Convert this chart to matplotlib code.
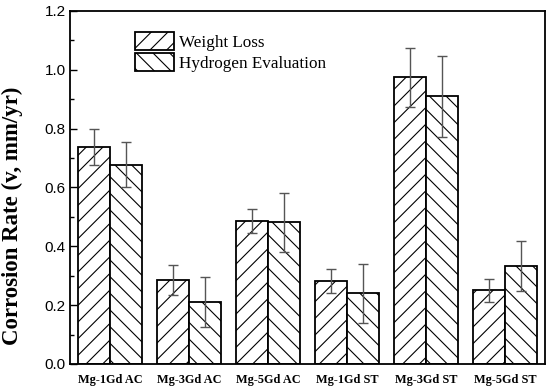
import matplotlib
matplotlib.use("Agg")
import matplotlib.pyplot as plt
import numpy as np

samples = ['Mg-1Gd AC', 'Mg-3Gd AC', 'Mg-5Gd AC', 'Mg-1Gd ST', 'Mg-3Gd ST', 'Mg-5Gd ST']
weight_loss = [0.737, 0.285, 0.486, 0.281, 0.974, 0.250]
weight_loss_err = [0.060, 0.050, 0.041, 0.040, 0.100, 0.040]
hydrogen = [0.677, 0.210, 0.481, 0.240, 0.910, 0.334]
hydrogen_err = [0.076, 0.084, 0.100, 0.101, 0.137, 0.085]

plt.rcParams['hatch.linewidth'] = 0.8

fig, ax = plt.subplots(figsize=(5.5, 3.88), dpi=100)
fig.subplots_adjust(left=0.128, right=0.99, top=0.972, bottom=0.062)

x = np.arange(len(samples))
w = 0.4
err_kw = dict(ecolor='#555555', elinewidth=1.0, capsize=3.5, capthick=1.0)

ax.bar(x - w / 2, weight_loss, w, yerr=weight_loss_err, facecolor='white',
       edgecolor='black', linewidth=1.3, hatch='//', label='Weight Loss', error_kw=err_kw)
ax.bar(x + w / 2, hydrogen, w, yerr=hydrogen_err, facecolor='white',
       edgecolor='black', linewidth=1.3, hatch='\\\\', label='Hydrogen Evaluation', error_kw=err_kw)

ax.set_xlim(-0.5, 5.5)
ax.set_ylim(0, 1.2)
ax.set_yticks(np.arange(0, 1.21, 0.2))
ax.set_yticks(np.arange(0.1, 1.2, 0.2), minor=True)
ax.set_yticklabels(['%.1f' % v for v in np.arange(0, 1.21, 0.2)],
                   fontsize=11, family='Liberation Sans')
ax.set_xticks(x)
ax.set_xticklabels(samples, fontsize=8.8, fontweight='bold', family='Liberation Serif')
ax.tick_params(axis='y', which='major', direction='in', length=5, width=1)
ax.tick_params(axis='y', which='minor', direction='in', length=3, width=1)
ax.tick_params(axis='x', length=0, pad=7)
for s in ax.spines.values():
    s.set_linewidth(1.3)

ax.set_ylabel('Corrosion Rate (v, mm/yr)', fontsize=16.5, fontweight='bold',
              family='Liberation Serif')
ax.yaxis.set_label_coords(-0.1, 0.42)

ax.legend(loc='upper left', bbox_to_anchor=(0.122, 0.96), frameon=False,
          prop={'family': 'Liberation Serif', 'size': 12.3},
          handlelength=2.25, handleheight=1.3, handletextpad=0.3, labelspacing=0.1,
          borderaxespad=0)

fig.savefig('out.png', dpi=100)
